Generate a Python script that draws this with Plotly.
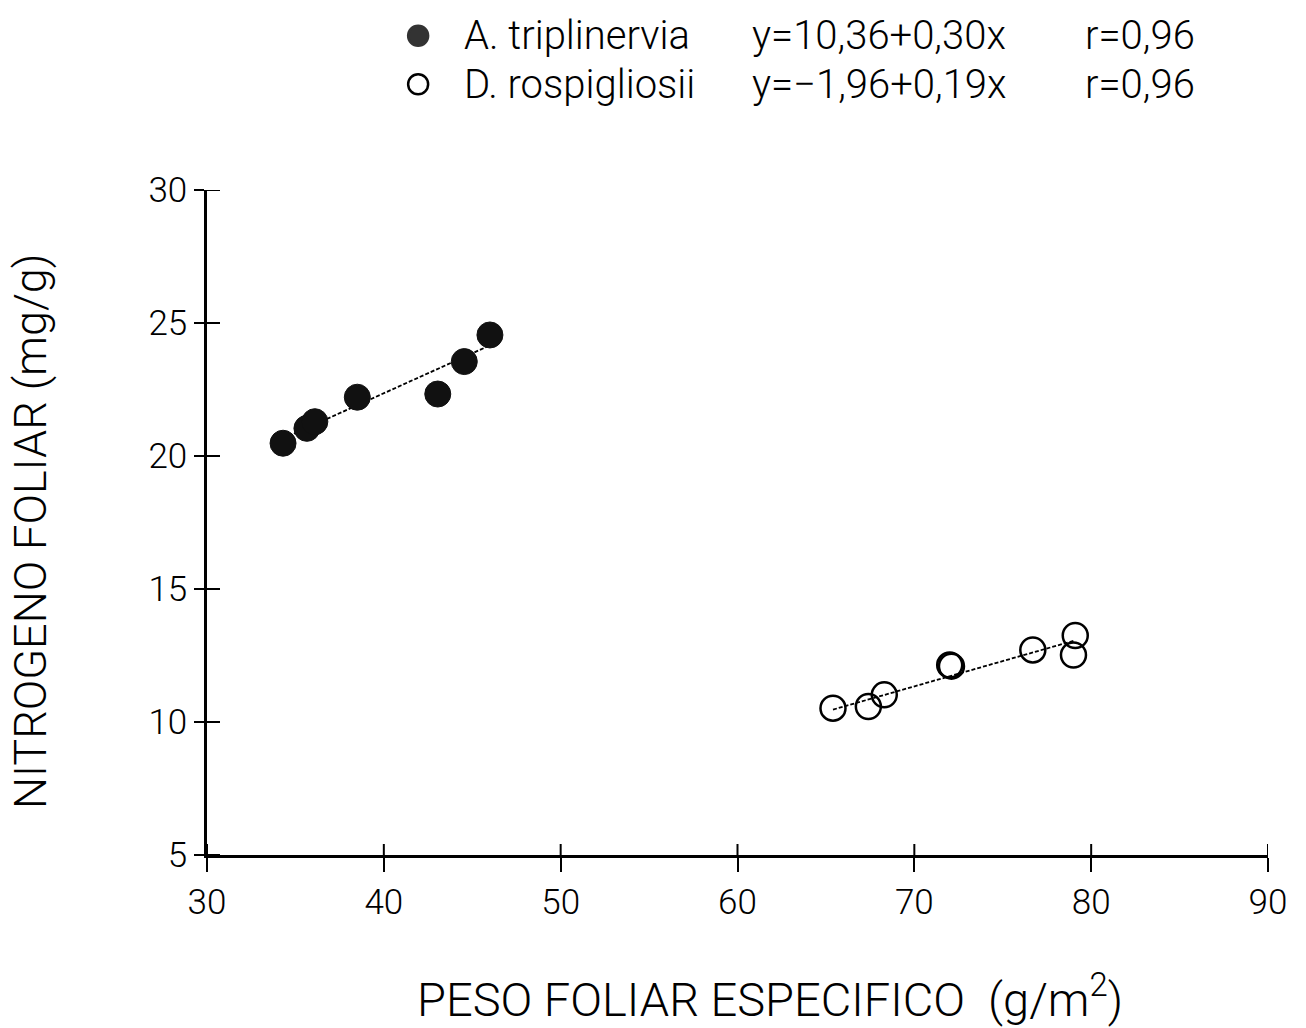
import plotly.graph_objects as go

# Specific leaf weight (g/m2) and foliar nitrogen (mg/g) per species
species = ["A. triplinervia", "D. rospigliosii"]
peso_a = [34.3, 35.65, 36.1, 38.5, 43.05, 44.55, 46.0]
nitro_a = [20.48, 21.04, 21.29, 22.21, 22.33, 23.55, 24.55]
peso_d = [65.4, 67.4, 68.3, 72.0, 72.1, 76.7, 79.0, 79.1]
nitro_d = [10.52, 10.58, 11.02, 12.14, 12.10, 12.71, 12.52, 13.25]

# Regression fits y = a + b x and correlation coefficients
intercepts = [10.36, -1.96]
slopes = [0.30, 0.19]
r_values = [0.96, 0.96]
equations = ["y=10,36+0,30x", "y=\u22121,96+0,19x"]
r_labels = ["r=0,96", "r=0,96"]

x_ticks = [30, 40, 50, 60, 70, 80, 90]
y_ticks = [5, 10, 15, 20, 25, 30]

FONT = "Roboto, DejaVu Sans, sans-serif"
WEIGHT = 300
INK = "black"

fig = go.Figure()


def fit_line(xs, a, b):
    lo, hi = min(xs), max(xs)
    return [lo, hi], [a + b * lo, a + b * hi]


for xs, a, b in [(peso_a, intercepts[0], slopes[0]), (peso_d, intercepts[1], slopes[1])]:
    lx, ly = fit_line(xs, a, b)
    fig.add_trace(go.Scatter(
        x=lx, y=ly, mode="lines",
        line=dict(color=INK, width=1.8, dash="4px,2px"),
        showlegend=False, hoverinfo="skip",
    ))

fig.add_trace(go.Scatter(
    x=peso_a, y=nitro_a, mode="markers", name=species[0],
    marker=dict(symbol="circle", size=26, color="#111111",
                line=dict(color="#111111", width=1)),
    showlegend=False,
))
fig.add_trace(go.Scatter(
    x=peso_d, y=nitro_d, mode="markers", name=species[1],
    marker=dict(symbol="circle-open", size=25, color=INK,
                line=dict(color=INK, width=2.5)),
    showlegend=False,
))

# Inner half of the crossing tick marks on both axes
for xv in x_ticks:
    fig.add_shape(type="line", xref="x", yref="paper", ysizemode="pixel",
                  yanchor=0, x0=xv, x1=xv, y0=0, y1=11,
                  line=dict(color=INK, width=2))
for yv in y_ticks:
    fig.add_shape(type="line", xref="paper", yref="y", xsizemode="pixel",
                  xanchor=0, x0=0, x1=13, y0=yv, y1=yv,
                  line=dict(color=INK, width=2))

# Key above the plot: symbol, species name, equation, correlation
key_rows_y = [1.232, 1.159]
for i, yy in enumerate(key_rows_y):
    fig.add_shape(
        type="circle", xref="paper", yref="paper",
        xsizemode="pixel", ysizemode="pixel",
        xanchor=0.199, yanchor=yy, x0=-10, x1=10, y0=-10, y1=10,
        fillcolor="#333333" if i == 0 else "rgba(0,0,0,0)",
        line=dict(color="#333333" if i == 0 else INK, width=2.5),
    )
    for xx, txt in [(0.240, species[i]), (0.512, equations[i]), (0.826, r_labels[i])]:
        fig.add_annotation(
            x=xx, y=yy, xref="paper", yref="paper", text=txt,
            showarrow=False, xanchor="left", yanchor="middle",
            font=dict(family=FONT, size=40, color=INK, weight=WEIGHT),
        )

# Axis titles
fig.add_annotation(
    x=0.531, y=-0.212, xref="paper", yref="paper",
    text="PESO FOLIAR ESPECIFICO  (g/m<sup>2</sup>)", showarrow=False,
    xanchor="center", yanchor="middle",
    font=dict(family=FONT, size=47, color=INK, weight=WEIGHT),
)
fig.add_annotation(
    x=-0.167, y=0.487, xref="paper", yref="paper",
    text="NITROGENO FOLIAR (mg/g)", showarrow=False, textangle=-90,
    xanchor="center", yanchor="middle",
    font=dict(family=FONT, size=45, color=INK, weight=WEIGHT),
)

axis_common = dict(
    showgrid=False, zeroline=False, showline=True,
    linecolor=INK, linewidth=2.5, tickcolor=INK, tickwidth=2,
)

fig.update_layout(
    width=1306, height=1028,
    margin=dict(l=207, r=38, t=190, b=173),
    paper_bgcolor="white", plot_bgcolor="white",
    font=dict(family=FONT, color=INK),
    xaxis=dict(
        range=[30, 90], tickvals=x_ticks, ticks="outside", ticklen=14,
        tickfont=dict(family=FONT, size=35, color=INK, weight=WEIGHT),
        **axis_common,
    ),
    yaxis=dict(
        range=[5, 30], tickvals=y_ticks, ticks="outside", ticklen=10,
        tickfont=dict(family=FONT, size=35, color=INK, weight=WEIGHT),
        **axis_common,
    ),
)

fig.write_html("out.html")
